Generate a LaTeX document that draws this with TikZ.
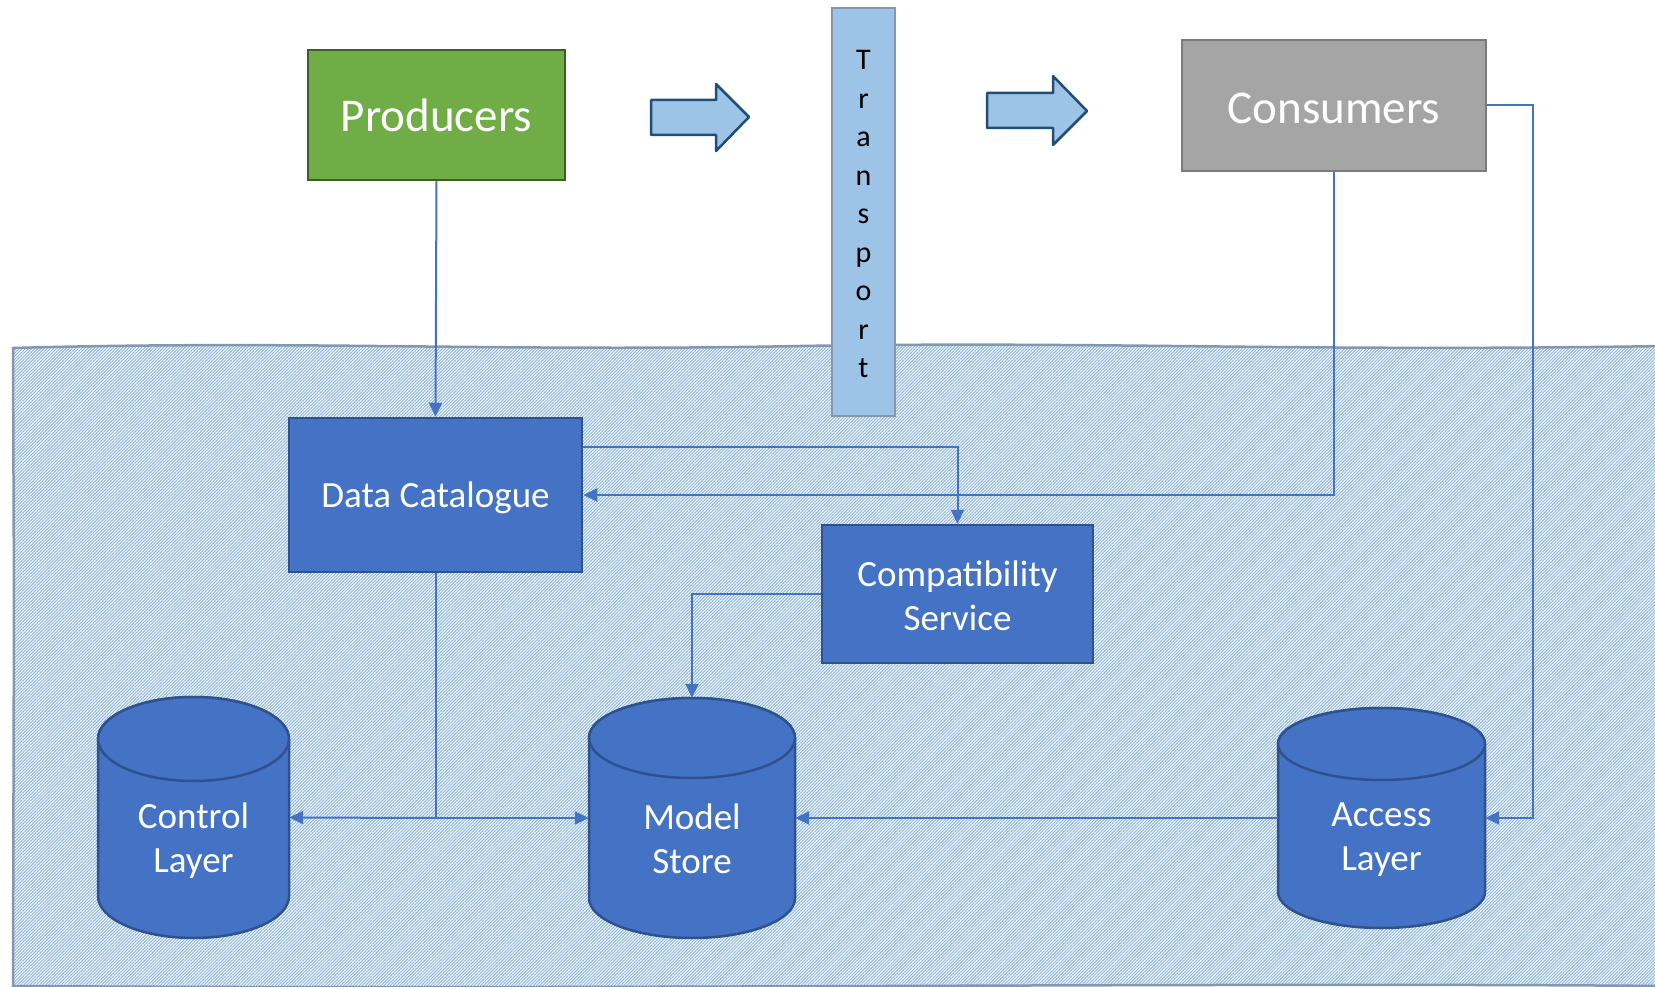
\documentclass[tikz,border=0pt]{standalone}
\usepackage{fontspec}
\setmainfont{Carlito}
\usetikzlibrary{arrows.meta,patterns.meta,calc}
\definecolor{bfill}{HTML}{4472C4}
\definecolor{bdark}{HTML}{2F528F}
\definecolor{gfill}{HTML}{70AD47}
\definecolor{gdark}{HTML}{3B5F29}
\definecolor{cgray}{HTML}{A5A5A5}
\definecolor{cgdark}{HTML}{7B7B7B}
\definecolor{lblue}{HTML}{9DC3E6}
\definecolor{hblue}{HTML}{8FB8E0}
\definecolor{navy}{HTML}{1F4E79}
\definecolor{slate}{HTML}{8497B0}
\newcommand\drawcyl[5]{%
  \pgfmathsetmacro\cxm{(#1+#2)/2}%
  \pgfmathsetmacro\rxm{(#2-#1)/2}%
  \path[cylbody] (#1,#3+#5) -- (#1,#4-#5) arc[start angle=180,end angle=0,x radius=\rxm,y radius=#5] -- (#2,#3+#5) arc[start angle=0,end angle=-180,x radius=\rxm,y radius=#5] -- cycle;
  \draw[cylbody] (\cxm,#3+#5) ellipse[x radius=\rxm, y radius=#5];
}
\newcommand\lowered[2]{\raisebox{-#1}[\height][\depth]{#2}}
\begin{document}
\begin{tikzpicture}[x=1pt,y=-1pt,
  box/.style={draw, line width=2.5pt, inner sep=0pt, text=white},
  bluebox/.style={box, fill=bfill, draw=bdark, font=\fontsize{37}{44}\selectfont, align=center},
  conn/.style={draw=bfill, line width=2pt},
  arr/.style={conn, -{Triangle[length=14pt,width=13pt]}},
  cylbody/.style={fill=bfill, draw=bdark, line width=2.5pt},
  cylnode/.style={inner sep=0pt, draw=none},
  cyltext/.style={text=white, font=\fontsize{37}{44}\selectfont, align=center, inner sep=0pt},
  blockarrow/.style={fill=lblue, draw=navy, line width=2.5pt, line join=round},
  hatch/.style={pattern={Lines[angle=45,distance=2.2pt,line width=1.1pt]}, pattern color=hblue},
  hatchborder/.style={draw=slate, line width=2.5pt}
]
\useasboundingbox (0,0) rectangle (1655,987);

% hatched region
\path[hatch] (13,348) .. controls (300,340) and (500,352) .. (800,346) .. controls (1100,341) and (1300,352) .. (1665,346) -- (1665,986) .. controls (1200,982) and (600,990) .. (13,986) -- cycle;
\draw[hatchborder] (1665,346) .. controls (1300,352) and (1100,341) .. (800,346) .. controls (500,352) and (300,340) .. (13,348) -- (14,600) -- (13,986) .. controls (600,990) and (1200,982) .. (1665,986);

% top nodes
\node[box, fill=gfill, draw=gdark, minimum width=257pt, minimum height=130pt, font=\fontsize{47}{56}\selectfont] (prod) at (436.5,115) {Producers};
\node[box, fill=cgray, draw=cgdark, minimum width=304pt, minimum height=131pt, font=\fontsize{47}{56}\selectfont] (cons) at (1334,105.5) {\lowered{2.5pt}{Consumers}};
\node[box, fill=lblue, draw=slate, minimum width=63pt, minimum height=408pt] (tr) at (863.5,212) {};
\node[inner sep=0pt, font=\fontsize{30}{38.5}\selectfont, align=center, text=black] (trt) at (863.5,214) {T\\r\\a\\n\\s\\p\\o\\r\\t};

% block arrows
\draw[blockarrow] (651,100) -- (716,100) -- (716,84) -- (749,117) -- (716,151) -- (716,135) -- (651,135) -- cycle;
\draw[blockarrow] (987,93) -- (1053,93) -- (1053,76) -- (1087,111) -- (1053,145) -- (1053,128) -- (987,128) -- cycle;

% blue boxes
\node[bluebox, minimum width=293pt, minimum height=154pt] (dc) at (435.5,495) {\lowered{3pt}{Data Catalogue}};
\node[bluebox, minimum width=271pt, minimum height=138pt] (cs) at (957.5,594) {\lowered{2pt}{Compatibility}\\\lowered{2pt}{Service}};

% cylinders
\drawcyl{98}{289}{697}{938}{42}
\drawcyl{589}{795}{698}{938}{40}
\drawcyl{1278}{1485}{708}{928}{36}
\node[cylnode, minimum width=191pt, minimum height=241pt] (cl) at (193.5,817.5) {};
\node[cylnode, minimum width=206pt, minimum height=240pt] (ms) at (692,818) {};
\node[cylnode, minimum width=207pt, minimum height=220pt] (al) at (1381.5,818) {};
\node[cyltext] (clt) at (193.5,841) {Control\\Layer};
\node[cyltext] (mst) at (692,839) {Model\\Store};
\node[cyltext] (alt) at (1381.5,840) {Access\\Layer};

% connectors
\draw[arr] (prod.south) -- (dc.north);
\draw[arr] ([yshift=48pt]dc.east) -| (cs.north);
\draw[arr] (cons.south) |- (dc.east);
\coordinate (cr) at (1533,105.5);
\draw[arr] (cons.east) -- (cr) |- (al.east);
\draw[arr] (cs.west) -| (ms.north);
\coordinate (jn) at (dc.south |- ms.west);
\draw[conn] (dc.south) -- (jn);
\draw[arr] (jn) -- (cl.east);
\draw[arr] (jn) -- (ms.west);
\draw[arr] (al.west) -- (ms.east);
\end{tikzpicture}
\end{document}
